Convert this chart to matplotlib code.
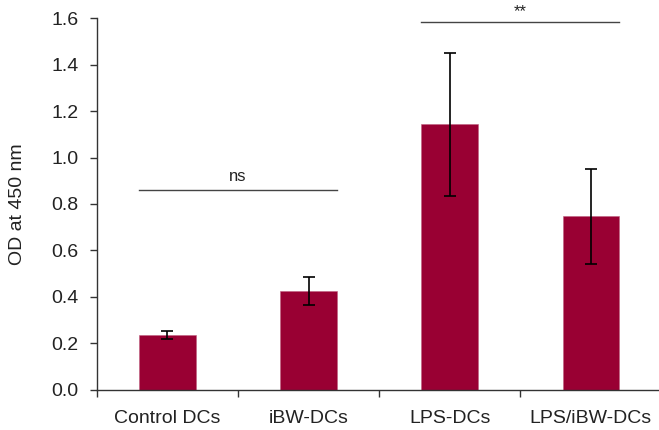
import matplotlib
matplotlib.use("Agg")
import matplotlib.pyplot as plt
import numpy as np

# OD readings per group (mean and error-bar half-width)
groups = ["Control DCs", "iBW-DCs", "LPS-DCs", "LPS/iBW-DCs"]
od_mean = [0.235, 0.423, 1.143, 0.747]
od_err = [0.018, 0.060, 0.309, 0.205]

# significance brackets: (first group, last group, height, label)
sig_pairs = [(0, 1, 0.86, "ns"), (2, 3, 1.583, "**")]

BAR_C = "#990033"
BAR_W = 0.4

plt.rcParams["font.family"] = ["Liberation Sans", "DejaVu Sans"]

fig = plt.figure(figsize=(6.59, 4.30), dpi=100)
ax = fig.add_axes([96.7 / 659, 40.5 / 430, 564.8 / 659, 371.2 / 430])

x = np.arange(len(groups))
ax.bar(x, od_mean, width=BAR_W, color=BAR_C, edgecolor="#c06080", linewidth=0.4, zorder=2)
ax.errorbar(x, od_mean, yerr=od_err, fmt="none", ecolor="black",
            elinewidth=1.2, capsize=4, capthick=1.2, zorder=3)

for i0, i1, h, lab in sig_pairs:
    ax.plot([i0 - BAR_W / 2, i1 + BAR_W / 2], [h, h], color="#444444",
            linewidth=1.0, clip_on=False)
    # asterisks sit high in their box, so they need less lift than text
    lift = 0.012 if lab.startswith("*") else 0.025
    ax.text((i0 + i1) / 2, h + lift, lab, ha="center", va="bottom",
            fontsize=12, color="#222222", clip_on=False)

ax.set_xlim(-0.5, len(groups) - 0.5)
ax.set_ylim(0, 1.6)
ax.set_yticks(np.arange(0, 1.61, 0.2))
ax.set_yticklabels([f"{v:.1f}" for v in np.arange(0, 1.61, 0.2)])
ax.set_xticks(x)
ax.set_xticklabels(groups)
ax.set_xticks(np.arange(-0.5, len(groups) - 0.5, 1.0), minor=True)
ax.tick_params(axis="x", which="major", length=0, pad=15, labelsize=14, colors="#222222")
ax.tick_params(axis="x", which="minor", length=5, width=1.0, direction="out", color="#333333")
ax.tick_params(axis="y", length=5, width=1.0, direction="out", labelsize=14, pad=8,
               colors="#222222", color="#333333")
ax.set_ylabel("OD at 450 nm", fontsize=14, color="#222222", labelpad=18)

for side in ("top", "right"):
    ax.spines[side].set_visible(False)
for side in ("left", "bottom"):
    ax.spines[side].set_color("#333333")
    ax.spines[side].set_linewidth(1.0)

fig.savefig("out.png", dpi=100)
